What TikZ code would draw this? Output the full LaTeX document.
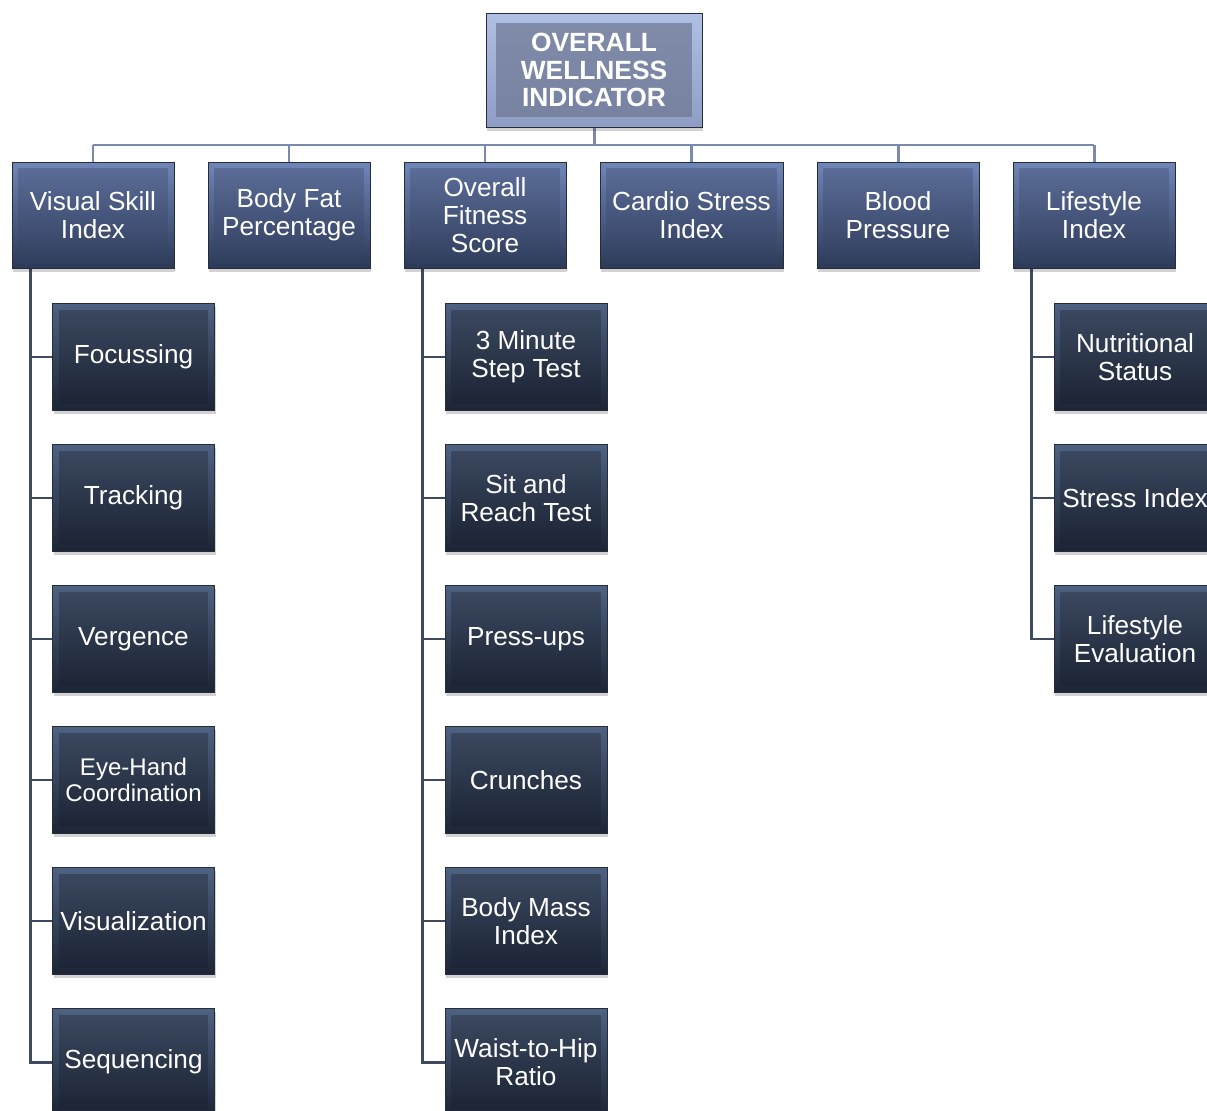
\documentclass[tikz,border=0pt]{standalone}
\usepackage{fontspec}
\setmainfont{Liberation Sans}
\usetikzlibrary{shadows,backgrounds}

\definecolor{barcol}{HTML}{7A8AAB}
\definecolor{spinecol}{HTML}{3E4A5E}
\definecolor{edgecol}{HTML}{262C3A}
% head box
\definecolor{headA}{HTML}{B0C0E4}
\definecolor{headB}{HTML}{8E9DC4}
\definecolor{headC}{HTML}{808CAA}
\definecolor{headD}{HTML}{76829F}
% group boxes
\definecolor{mainA}{HTML}{6F86B8}
\definecolor{mainB}{HTML}{2C3957}
\definecolor{mainC}{HTML}{5D6F9B}
\definecolor{mainD}{HTML}{2F3C5B}
% item boxes
\definecolor{subA}{HTML}{4E6282}
\definecolor{subB}{HTML}{1C2535}
\definecolor{subC}{HTML}{3C4A62}
\definecolor{subD}{HTML}{1A2232}

\tikzset{
  bevel/.style n args={5}{top color=#1, bottom color=#2,
    path picture={\shade[top color=#3, bottom color=#4]
      ([shift={(#5,-#5)}]path picture bounding box.north west) rectangle
      ([shift={(-#5,#5)}]path picture bounding box.south east);}},
  box/.style={draw=edgecol, line width=0.5pt, align=center, text=white,
    inner sep=1pt, font=\fontsize{14.9}{15.9}\selectfont,
    drop shadow={shadow xshift=0.6pt, shadow yshift=-2.2pt, opacity=0.22, fill=black!80}},
  headbox/.style={box, minimum width=4.32cm, minimum height=2.28cm,
    font=\bfseries\fontsize{15}{15.8}\selectfont,
    bevel={headA}{headB}{headC}{headD}{0.2cm}},
  mainbox/.style={box, minimum width=3.24cm, minimum height=2.12cm,
    bevel={mainA}{mainB}{mainC}{mainD}{0.13cm}},
  subbox/.style={box, minimum width=3.24cm, minimum height=2.14cm,
    bevel={subA}{subB}{subC}{subD}{0.13cm}},
  subsmall/.style={subbox, font=\fontsize{13.7}{14.4}\selectfont},
  barline/.style={draw=barcol, line width=1.7pt},
  spineline/.style={draw=spinecol, line width=1.7pt}
}

\begin{document}
\begin{tikzpicture}[x=0.02cm, y=-0.02cm]

\useasboundingbox (0,0) rectangle (1207,1111);
\clip (0,0) rectangle (1207,1111);

% offset of the spines left of the group boxes
\def\sp{1.26cm}

% Top of the tree
\node[headbox] (top) at (594,70) {OVERALL\\WELLNESS\\INDICATOR};
\coordinate (bar) at (594,145);

% Main groups
\node[mainbox] (vsi) at (93,215) {Visual Skill\\Index};
\node[mainbox] (bfp) at (289,215) {Body Fat\\Percentage};
\node[mainbox] (ofs) at (485,215) {Overall\\Fitness\\Score};
\node[mainbox, minimum width=3.66cm] (csi) at (691.5,215) {Cardio Stress\\Index};
\node[mainbox] (bp) at (898,215) {Blood\\Pressure};
\node[mainbox] (lsi) at (1094,215) {Lifestyle\\Index};

% Visual skills
\foreach \t/\s [count=\i] in {Focussing/subbox, Tracking/subbox, Vergence/subbox,
    Eye-Hand\\Coordination/subsmall, Visualization/subbox, Sequencing/subbox}
  \node[\s] (v\i) at (133.5,{357+141*(\i-1)}) {\t};

% Fitness tests
\foreach \t [count=\i] in {3 Minute\\Step Test, Sit and\\Reach Test, Press-ups,
    Crunches, Body Mass\\Index, Waist-to-Hip\\Ratio}
  \node[subbox] (f\i) at (526,{357+141*(\i-1)}) {\t};

% Lifestyle
\foreach \t [count=\i] in {Nutritional\\Status, Stress Index, Lifestyle\\Evaluation}
  \node[subbox] (l\i) at (1135,{357+141*(\i-1)}) {\t};

% Connectors, behind the boxes
\begin{scope}[on background layer]
  \draw[barline] (top.south) -- (bar);
  \draw[barline] (bar -| vsi.north) -- (bar -| lsi.north);
  \foreach \n in {vsi,bfp,ofs,csi,bp,lsi}
    \draw[barline] (bar -| \n.north) -- (\n.north);
  \foreach \i in {1,...,6}
    \draw[spineline] ([xshift=-\sp]vsi.south) |- (v\i.west);
  \foreach \i in {1,...,6}
    \draw[spineline] ([xshift=-\sp]ofs.south) |- (f\i.west);
  \foreach \i in {1,...,3}
    \draw[spineline] ([xshift=-\sp]lsi.south) |- (l\i.west);
\end{scope}

\end{tikzpicture}
\end{document}
